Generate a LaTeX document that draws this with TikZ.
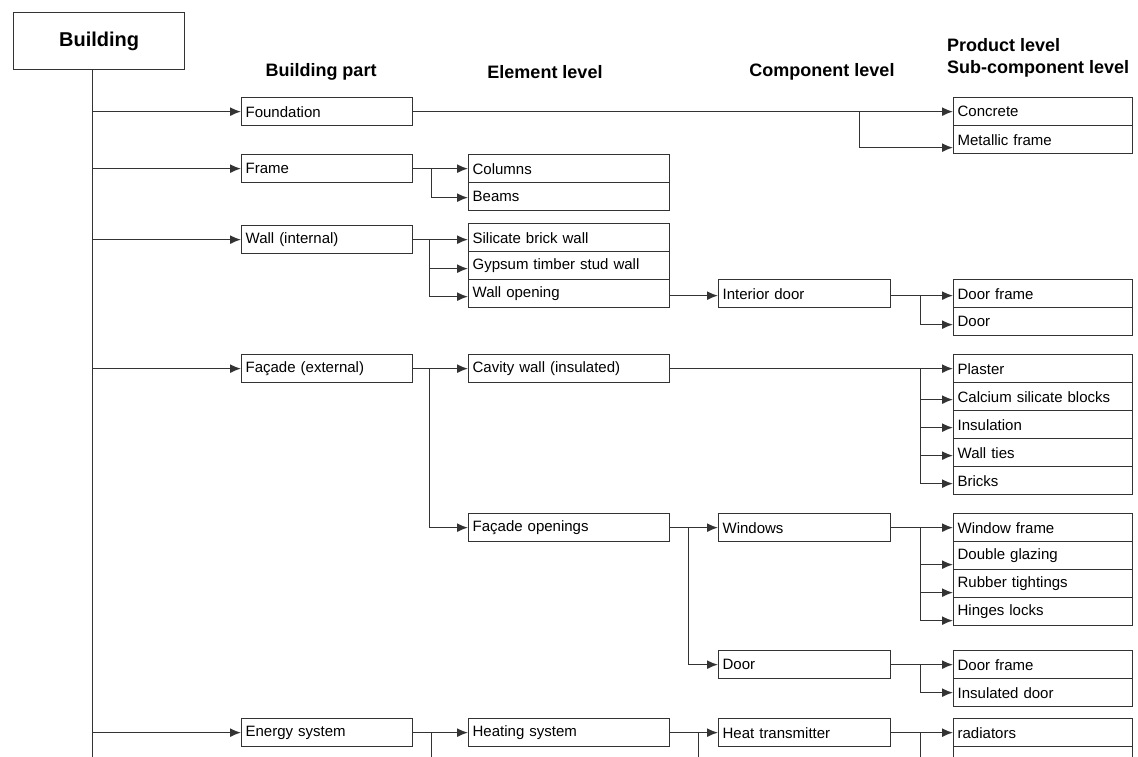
\documentclass[tikz,border=0pt]{standalone}
\usepackage{fontspec}
\setmainfont{Liberation Sans}
\usetikzlibrary{arrows.meta}

\begin{document}
\begin{tikzpicture}[x=1pt,y=-1pt,
  every node/.style={inner sep=0pt},
  box/.style={draw=black!80, line width=1.3pt, rectangle, anchor=north west,
    minimum height=28pt, inner xsep=4pt, align=left,
    font=\fontsize{15}{17}\selectfont},
  colA/.style={box, text width=163pt},
  colB/.style={box, text width=193pt},
  colC/.style={box, text width=164pt},
  colD/.style={box, text width=171pt},
  head/.style={font=\fontsize{18}{22}\selectfont\bfseries},
  link/.style={draw=black!80, line width=1.5pt},
  arr/.style={link, -{Latex[length=11pt,width=9pt]}}
]
\useasboundingbox (0,0) rectangle (1138,756);
\clip (0,0) rectangle (1138,756);
\fill[white] (0,0) rectangle (1138,756);

% root and column headings
\node[draw=black!80, line width=1.3pt, anchor=north west, minimum width=171pt,
  minimum height=57pt, font=\fontsize{20}{24}\selectfont\bfseries] (bld) at (13,12) {Building};
\node[head] (hbp) at (321,72) {Building part};
\node[head] (hel) at (545,72) {Element level};
\node[head] (hco) at (822,72) {Component level};
\node[head, anchor=west, align=left] (hpr) at (947,58) {Product level\\Sub-component level};

% building parts
\node[colA] (fnd) at (241,97)  {Foundation};
\node[colA] (frm) at (241,154) {Frame};
\node[colA] (wal) at (241,225) {Wall (internal)};
\node[colA] (fac) at (241,354) {Façade (external)};
\node[colA] (ene) at (241,718) {Energy system};

% elements
\node[colB] (col) at (468,154) {Columns};
\node[colB] (bea) at (468,182) {Beams};
\node[colB] (sil) at (468,223) {Silicate brick wall};
\node[colB] (gyp) at (468,251) {Gypsum timber stud wall};
\node[colB] (wop) at (468,279) {Wall opening};
\node[colB] (cav) at (468,354) {Cavity wall (insulated)};
\node[colB] (fop) at (468,513) {Façade openings};
\node[colB] (hea) at (468,718) {Heating system};

% components
\node[colC] (ido) at (718,279) {Interior door};
\node[colC] (win) at (718,513) {Windows};
\node[colC] (dor) at (718,650) {Door};
\node[colC] (htr) at (718,718) {Heat transmitter};

% products / sub-components
\node[colD] (con) at (953,97)  {Concrete};
\node[colD] (met) at (953,125) {Metallic frame};
\node[colD] (dfa) at (953,279) {Door frame};
\node[colD] (dra) at (953,307) {Door};
\node[colD] (pla) at (953,354) {Plaster};
\node[colD] (cal) at (953,382) {Calcium silicate blocks};
\node[colD] (ins) at (953,410) {Insulation};
\node[colD] (tie) at (953,438) {Wall ties};
\node[colD] (bri) at (953,466) {Bricks};
\node[colD] (wfr) at (953,513) {Window frame};
\node[colD] (dgl) at (953,541) {Double glazing};
\node[colD] (rub) at (953,569) {Rubber tightings};
\node[colD] (hin) at (953,597) {Hinges locks};
\node[colD] (dfb) at (953,650) {Door frame};
\node[colD] (idr) at (953,678) {Insulated door};
\node[colD] (rad) at (953,718) {radiators};
\node[colD] (rnx) at (953,746) {};

% trunk from the root
\coordinate (low) at (0,770);
\path (bld.south) ++(-6.5,0) coordinate (trk);
\draw[link] (trk) -- (trk |- low);
\foreach \n in {fnd,frm,wal,fac,ene}
  \draw[arr] (trk |- \n.west) -- (\n.west);

% foundation
\draw[arr] (fnd.east) -- (con.west);
\path (fnd.east) ++(446,0) coordinate (jfnd);
\draw[arr] (jfnd) |- ([yshift=-8pt]met.west);

% frame
\draw[arr] (frm.east) -- (col.west);
\path (frm.east) ++(18,0) coordinate (jfrm);
\draw[arr] (jfrm) |- ([yshift=-1pt]bea.west);

% internal wall
\draw[arr] (wal.east) -- (wal.east -| sil.west);
\path (wal.east) ++(16,0) coordinate (jwal);
\draw[arr] (jwal) |- ([yshift=-3pt]gyp.west);
\draw[arr] (jwal) |- ([yshift=-3pt]wop.west);
\draw[arr] ([yshift=-2pt]wop.east) -- ([yshift=-2pt]ido.west);
\draw[arr] ([yshift=-2pt]ido.east) -- ([yshift=-2pt]dfa.west);
\path ([yshift=-2pt]ido.east) ++(29,0) coordinate (jido);
\draw[arr] (jido) |- ([yshift=-3pt]dra.west);

% external facade
\draw[arr] (fac.east) -- (cav.west);
\path (fac.east) ++(16,0) coordinate (jfac);
\draw[arr] (jfac) |- (fop.west);
\draw[arr] (cav.east) -- (pla.west);
\path (cav.east) ++(250,0) coordinate (jcav);
\foreach \n in {cal,ins,tie,bri}
  \draw[arr] (jcav) |- ([yshift=-3pt]\n.west);

% facade openings
\draw[arr] (fop.east) -- (win.west);
\path (fop.east) ++(18,0) coordinate (jfop);
\draw[arr] (jfop) |- (dor.west);
\draw[arr] (win.east) -- (wfr.west);
\path (win.east) ++(29,0) coordinate (jwin);
\foreach \n in {dgl,rub,hin}
  \draw[arr] (jwin) |- ([yshift=-9pt]\n.west);
\draw[arr] (dor.east) -- (dfb.west);
\path (dor.east) ++(29,0) coordinate (jdor);
\draw[arr] (jdor) |- (idr.west);

% energy system
\draw[arr] (ene.east) -- (hea.west);
\path (ene.east) ++(18,0) coordinate (jene);
\draw[link] (jene) -- (jene |- low);
\draw[arr] (hea.east) -- (htr.west);
\path (hea.east) ++(28,0) coordinate (jhea);
\draw[link] (jhea) -- (jhea |- low);
\draw[arr] (htr.east) -- (rad.west);
\path (htr.east) ++(29,0) coordinate (jhtr);
\draw[link] (jhtr) -- (jhtr |- low);
\end{tikzpicture}
\end{document}
